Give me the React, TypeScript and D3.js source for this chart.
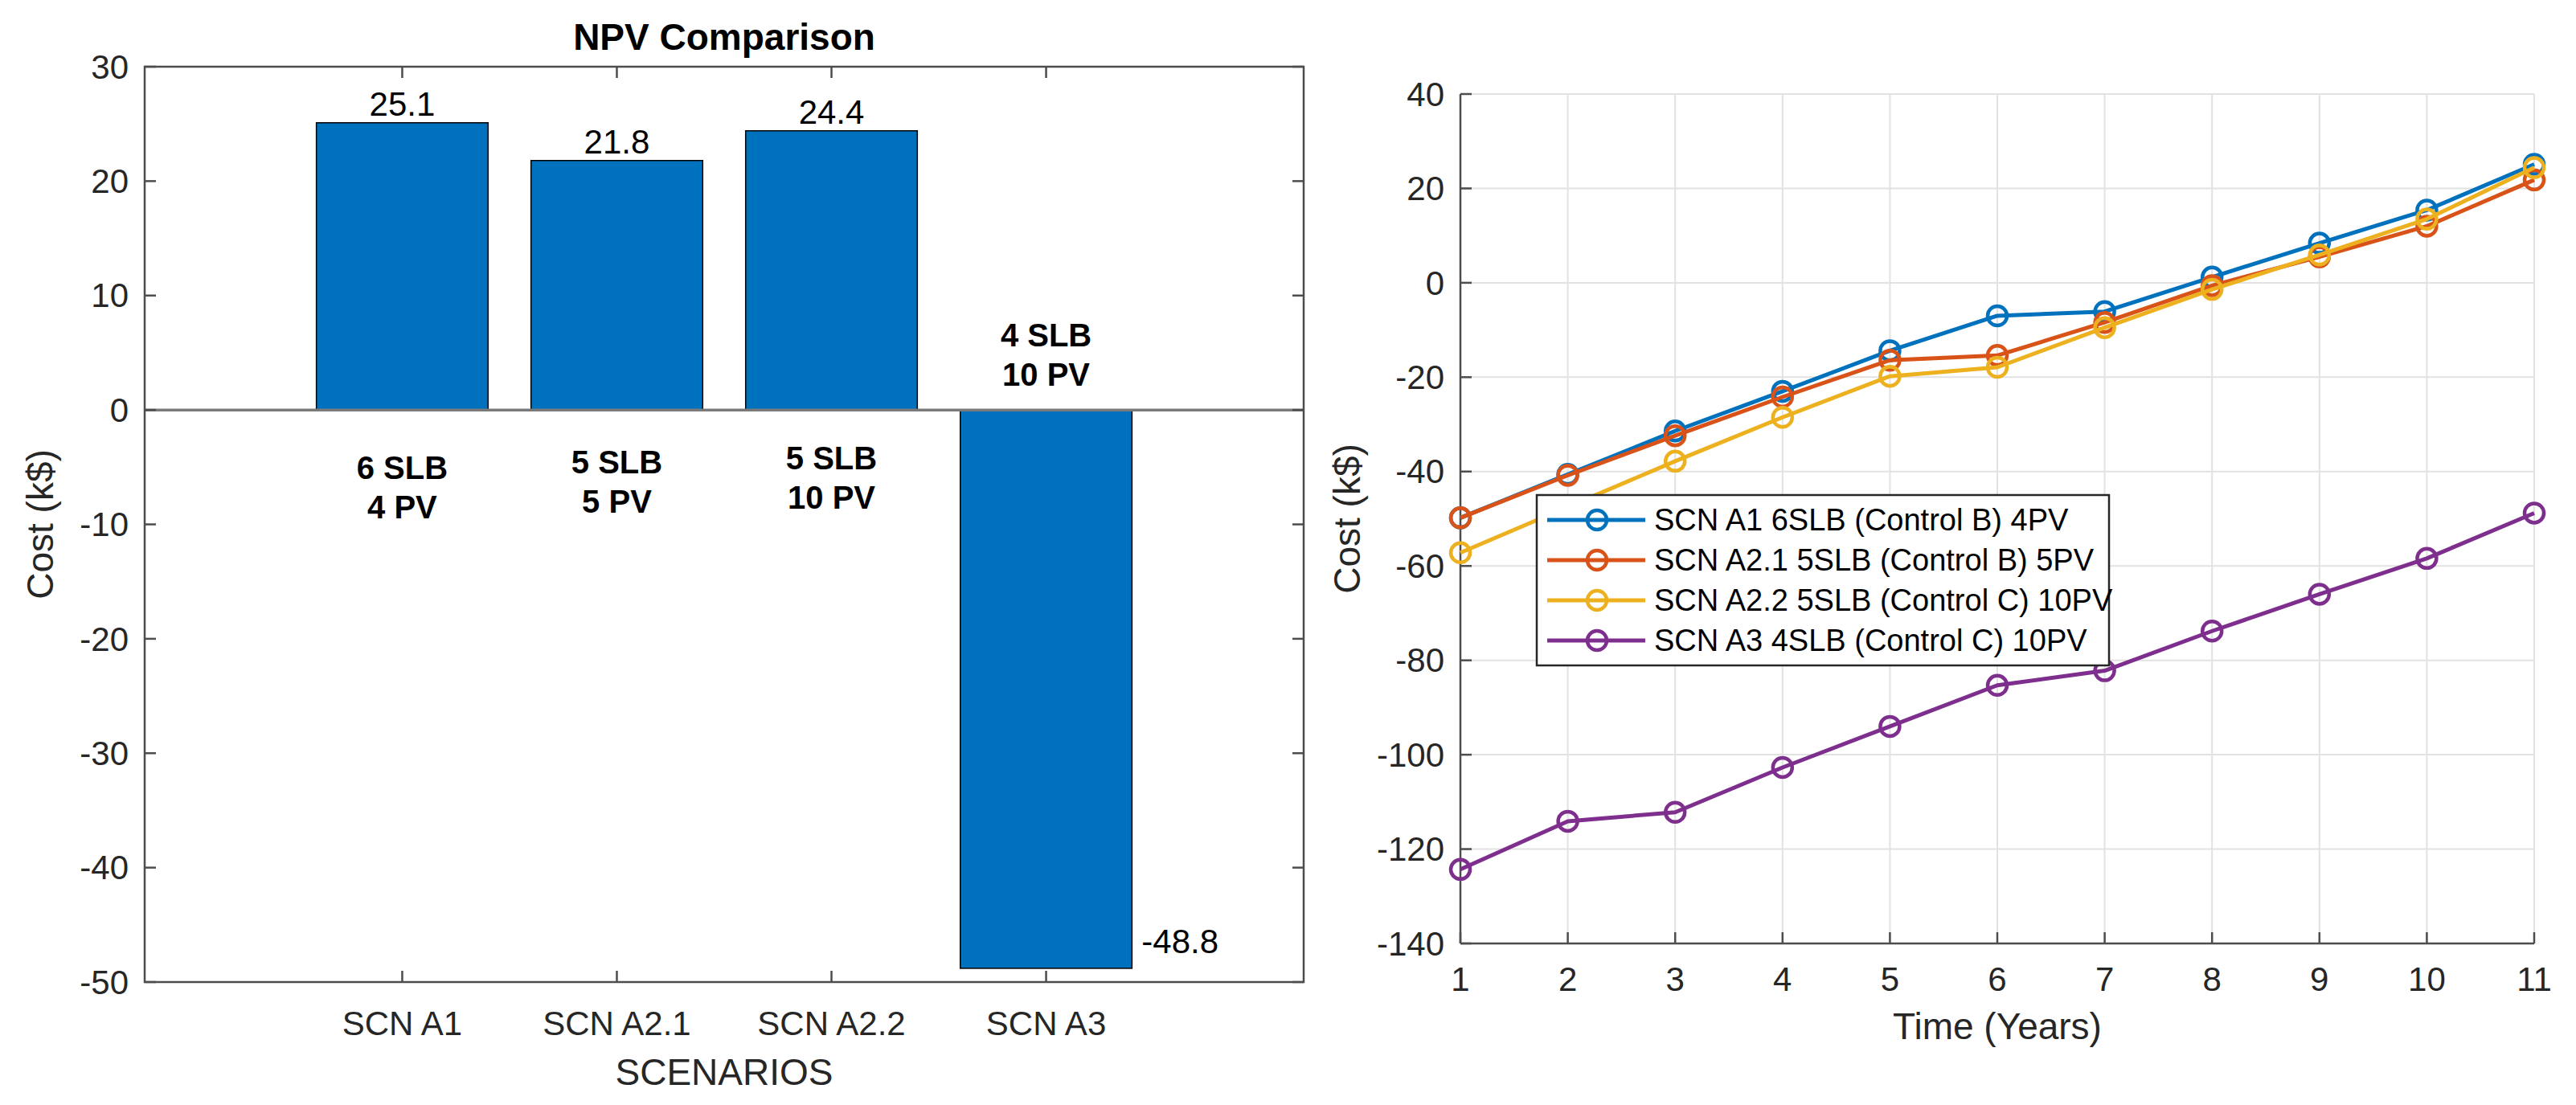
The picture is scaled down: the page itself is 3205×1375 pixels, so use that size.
import React from 'react';
import * as d3 from 'd3';

// ---- data ----
const scenarios = ['SCN A1', 'SCN A2.1', 'SCN A2.2', 'SCN A3'];
const npv = [25.1, 21.8, 24.4, -48.8];
const configTop = ['6 SLB', '5 SLB', '5 SLB', '4 SLB'];
const configBottom = ['4 PV', '5 PV', '10 PV', '10 PV'];
const configAt = [-6.8, -6.3, -5.9, 4.8]; // label block centre, in k$

const years = [1, 2, 3, 4, 5, 6, 7, 8, 9, 10, 11];
const seriesNames = [
    'SCN A1 6SLB (Control B) 4PV',
    'SCN A2.1 5SLB (Control B) 5PV',
    'SCN A2.2 5SLB (Control C) 10PV',
    'SCN A3 4SLB (Control C) 10PV',
];
const a1 = [-49.8, -40.6, -31.4, -23.0, -14.4, -7.0, -6.1, 1.2, 8.4, 15.4, 25.1];
const a21 = [-49.8, -40.8, -32.4, -24.2, -16.4, -15.4, -8.4, -0.6, 5.5, 12.0, 21.8];
const a22 = [-57.2, -47.5, -37.8, -28.5, -19.8, -17.9, -9.5, -1.4, 5.9, 13.5, 24.4];
const a3 = [-124.3, -114.1, -112.2, -102.7, -94.0, -85.3, -82.2, -73.8, -66.0, -58.4, -48.8];
const seriesValues = [a1, a21, a22, a3];
const seriesColors = ['#0072BD', '#D95319', '#EDB120', '#7E2F8E'];

const FONT = 'Arial, "Liberation Sans", Helvetica, sans-serif';
const TXT = '#262626';
const AX = '#4d4d4d';
const TICK = 14;

function BarChart() {
    const x = d3.scaleLinear().domain([-0.2, 5.2]).range([180, 1622]);
    const y = d3.scaleLinear().domain([-50, 30]).range([1222, 83]);
    const [x0, x1] = x.range();
    const [y0, y1] = y.range();
    const bw = x(0.8) - x(0);
    const yTicks = y.ticks(8);
    const cats = scenarios.map((_, i) => i + 1);

    return (
        <g fontFamily={FONT}>
            <text x={(x0 + x1) / 2} y={62} textAnchor="middle" fontSize={46} fontWeight="bold" fill="#000">
                NPV Comparison
            </text>
            {npv.map((v, i) => (
                <rect
                    key={i}
                    x={x(cats[i]) - bw / 2}
                    y={y(Math.max(0, v))}
                    width={bw}
                    height={Math.abs(y(v) - y(0))}
                    fill="#0072BD"
                    stroke="#000"
                    strokeWidth={1.5}
                />
            ))}
            <line x1={x0} x2={x1} y1={y(0)} y2={y(0)} stroke="#7a7a7a" strokeWidth={3.5} />
            <rect x={x0} y={y1} width={x1 - x0} height={y0 - y1} fill="none" stroke={AX} strokeWidth={2.5} />
            {yTicks.map((t) => (
                <g key={t}>
                    <line x1={x0} x2={x0 + TICK} y1={y(t)} y2={y(t)} stroke={AX} strokeWidth={2.5} />
                    <line x1={x1} x2={x1 - TICK} y1={y(t)} y2={y(t)} stroke={AX} strokeWidth={2.5} />
                    <text x={x0 - 20} y={y(t)} dy="0.35em" textAnchor="end" fontSize={42} fill={TXT}>
                        {t}
                    </text>
                </g>
            ))}
            {cats.map((c, i) => (
                <g key={c}>
                    <line x1={x(c)} x2={x(c)} y1={y0} y2={y0 - TICK} stroke={AX} strokeWidth={2.5} />
                    <line x1={x(c)} x2={x(c)} y1={y1} y2={y1 + TICK} stroke={AX} strokeWidth={2.5} />
                    <text x={x(c)} y={1288} textAnchor="middle" fontSize={42} fill={TXT}>
                        {scenarios[i]}
                    </text>
                </g>
            ))}
            {npv.map((v, i) =>
                v >= 0 ? (
                    <text key={i} x={x(cats[i])} y={y(v) - 9} textAnchor="middle" fontSize={42} fill="#000">
                        {v.toFixed(1)}
                    </text>
                ) : (
                    <text key={i} x={x(cats[i]) + bw / 2 + 12} y={y(v) - 34} dy="0.35em" fontSize={42} fill="#000">
                        {v.toFixed(1)}
                    </text>
                )
            )}
            {configAt.map((v, i) => (
                <text key={i} x={x(cats[i])} textAnchor="middle" fontSize={40} fontWeight="bold" fill="#000">
                    <tspan x={x(cats[i])} y={y(v) - 24.5} dy="0.35em">
                        {configTop[i]}
                    </tspan>
                    <tspan x={x(cats[i])} y={y(v) + 24.5} dy="0.35em">
                        {configBottom[i]}
                    </tspan>
                </text>
            ))}
            <text x={(x0 + x1) / 2} y={1350} textAnchor="middle" fontSize={46} fill={TXT}>
                SCENARIOS
            </text>
            <text
                transform={`translate(50,${(y0 + y1) / 2}) rotate(-90)`}
                dy="0.35em"
                textAnchor="middle"
                fontSize={46}
                fill={TXT}
            >
                Cost (k$)
            </text>
        </g>
    );
}

function LineChart() {
    const x = d3.scaleLinear().domain([1, 11]).range([1817, 3153]);
    const y = d3.scaleLinear().domain([-140, 40]).range([1174, 117]);
    const [x0, x1] = x.range();
    const [y0, y1] = y.range();
    const yTicks = d3.range(-140, 41, 20);
    const line = d3
        .line<number>()
        .x((_, i) => x(years[i]))
        .y((d) => y(d));

    const legX = 1912;
    const legY = 616;
    const legW = 712;
    const legH = 212;
    const rowH = 50;

    return (
        <g fontFamily={FONT}>
            {years.map((t) => (
                <line key={'gx' + t} x1={x(t)} x2={x(t)} y1={y0} y2={y1} stroke="#e2e2e2" strokeWidth={2} />
            ))}
            {yTicks.map((t) => (
                <line key={'gy' + t} x1={x0} x2={x1} y1={y(t)} y2={y(t)} stroke="#e2e2e2" strokeWidth={2} />
            ))}
            <line x1={x0} x2={x0} y1={y0} y2={y1} stroke={AX} strokeWidth={2.5} />
            <line x1={x0} x2={x1} y1={y0} y2={y0} stroke={AX} strokeWidth={2.5} />
            {yTicks.map((t) => (
                <g key={t}>
                    <line x1={x0} x2={x0 + TICK} y1={y(t)} y2={y(t)} stroke={AX} strokeWidth={2.5} />
                    <text x={x0 - 20} y={y(t)} dy="0.35em" textAnchor="end" fontSize={42} fill={TXT}>
                        {t}
                    </text>
                </g>
            ))}
            {years.map((t) => (
                <g key={t}>
                    <line x1={x(t)} x2={x(t)} y1={y0} y2={y0 - TICK} stroke={AX} strokeWidth={2.5} />
                    <text x={x(t)} y={1233} textAnchor="middle" fontSize={42} fill={TXT}>
                        {t}
                    </text>
                </g>
            ))}
            {seriesValues.map((vals, s) => (
                <g key={s}>
                    <path d={line(vals) || ''} fill="none" stroke={seriesColors[s]} strokeWidth={5} strokeLinejoin="round" />
                    {vals.map((v, i) => (
                        <circle
                            key={i}
                            cx={x(years[i])}
                            cy={y(v)}
                            r={12}
                            fill="none"
                            stroke={seriesColors[s]}
                            strokeWidth={4.5}
                        />
                    ))}
                </g>
            ))}
            <rect x={legX} y={legY} width={legW} height={legH} fill="#fff" stroke="#262626" strokeWidth={2.5} />
            {seriesNames.map((name, s) => {
                const cy = legY + 31 + s * rowH;
                return (
                    <g key={name}>
                        <line x1={legX + 13} x2={legX + 135} y1={cy} y2={cy} stroke={seriesColors[s]} strokeWidth={5} />
                        <circle cx={legX + 75} cy={cy} r={12} fill="none" stroke={seriesColors[s]} strokeWidth={4.5} />
                        <text x={legX + 146} y={cy} dy="0.35em" fontSize={38} fill="#000">
                            {name}
                        </text>
                    </g>
                );
            })}
            <text x={(x0 + x1) / 2} y={1293} textAnchor="middle" fontSize={46} fill={TXT}>
                Time (Years)
            </text>
            <text
                transform={`translate(1676,${(y0 + y1) / 2}) rotate(-90)`}
                dy="0.35em"
                textAnchor="middle"
                fontSize={46}
                fill={TXT}
            >
                Cost (k$)
            </text>
        </g>
    );
}

export default function App() {
    return (
        <svg
            width={3205}
            height={1375}
            viewBox="0 0 3205 1375"
            style={{ position: 'absolute', left: 0, top: 0, background: '#fff' }}
        >
            <rect width={3205} height={1375} fill="#fff" />
            <BarChart />
            <LineChart />
        </svg>
    );
}
